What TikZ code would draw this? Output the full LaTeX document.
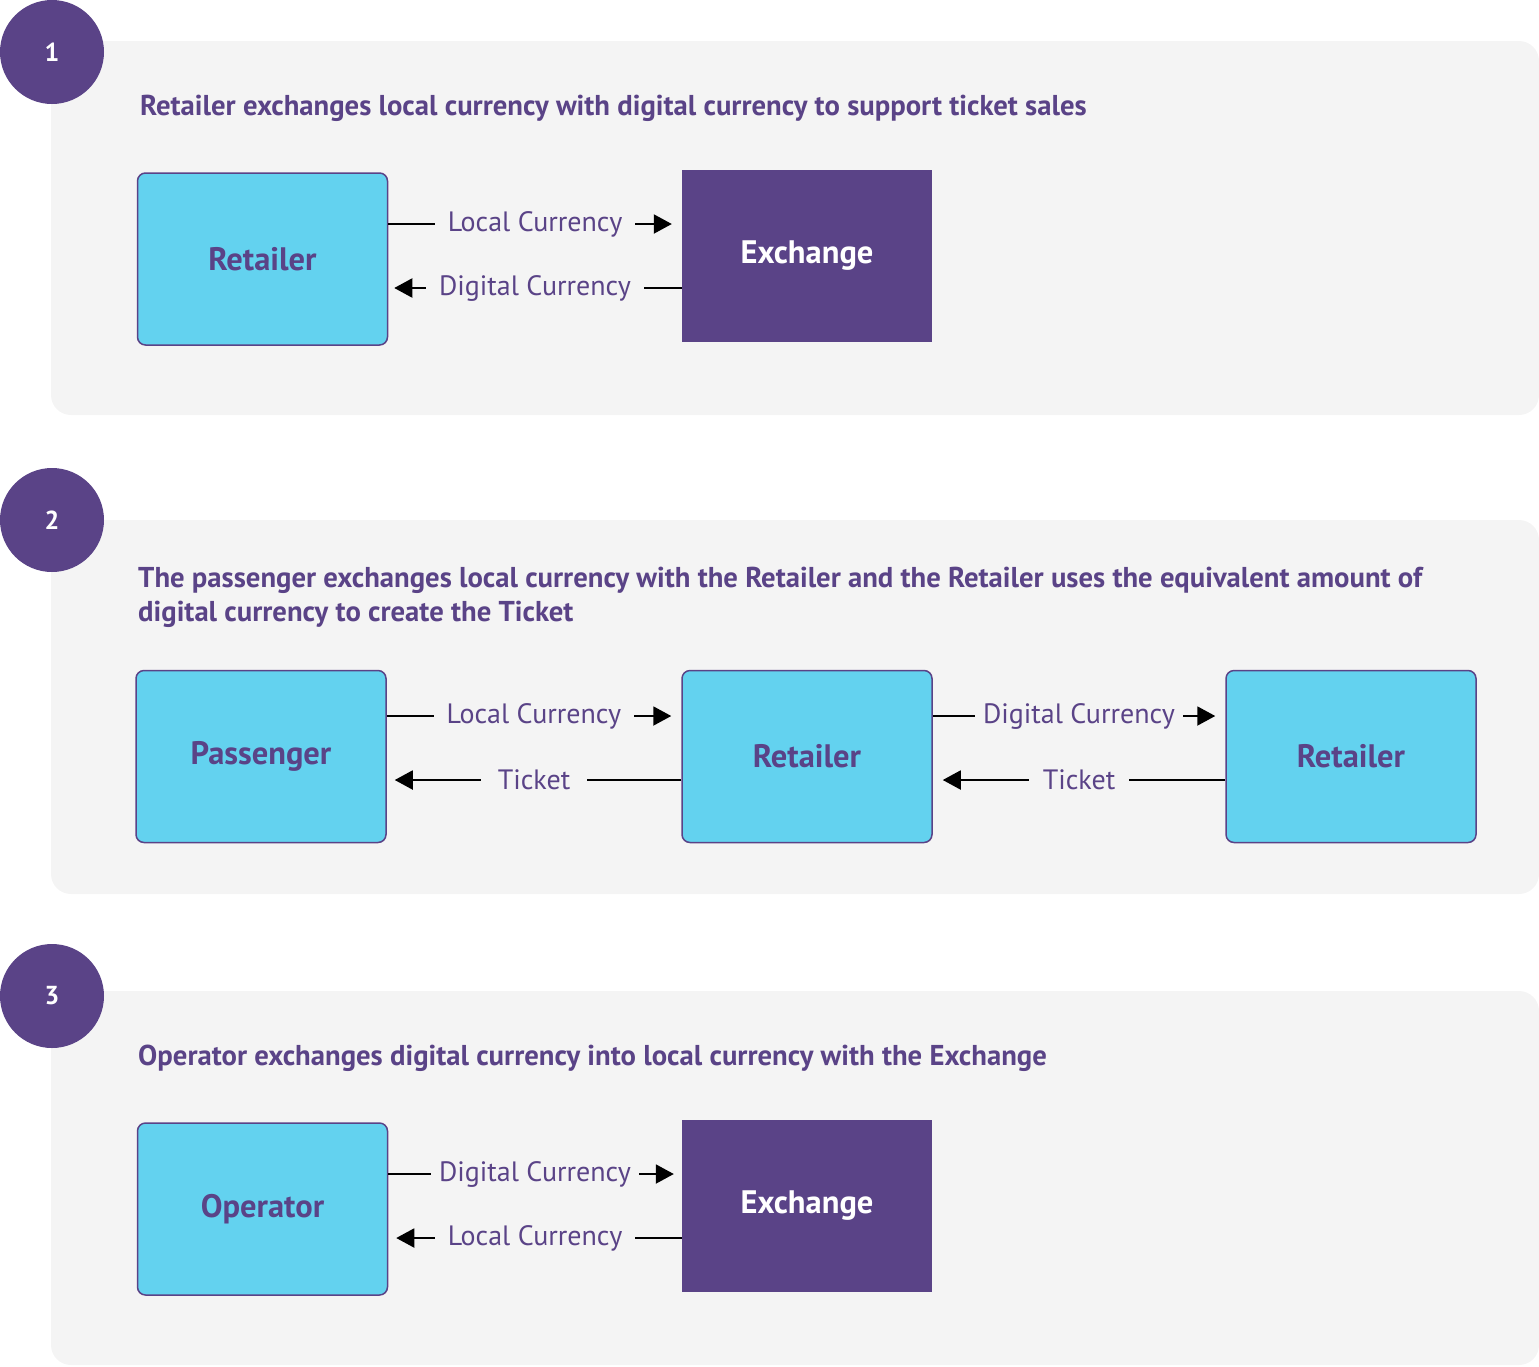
\documentclass[tikz,border=0pt]{standalone}
\usepackage{fontspec}
\setmainfont{PT Sans}
\usetikzlibrary{arrows.meta}
\definecolor{purp}{HTML}{5A4387}
\definecolor{cyanbox}{HTML}{63D2EF}
\definecolor{panel}{HTML}{F4F4F4}
\tikzset{
  x=1pt, y=-1pt,
  panelbox/.style={fill=panel, rounded corners=20pt},
  numcirc/.style={circle, fill=purp, minimum size=104pt, inner sep=0pt, text=white, font=\bfseries\fontsize{26}{30}\selectfont},
  title/.style={anchor=base west, inner sep=0pt, text=purp, font=\bfseries\fontsize{28.7}{34}\selectfont},
  actor/.style={draw=purp, line width=1.5pt, fill=cyanbox, rounded corners=8pt, minimum width=250pt, minimum height=172pt, text=purp, font=\bfseries\fontsize{32.5}{36}\selectfont},
  exch/.style={fill=purp, minimum width=250pt, minimum height=172pt, text=white, font=\bfseries\fontsize{32.5}{36}\selectfont},
  conn/.style={line width=2pt, -{Triangle[length=18pt,width=19pt]}},
  lab/.style={fill=panel, inner xsep=13pt, inner ysep=3pt, text=purp, font=\fontsize{28}{32}\selectfont},
}
\begin{document}
\begin{tikzpicture}
\useasboundingbox (0,0) rectangle (1539,1366);
% panels
\fill[panelbox] (51,41) rectangle (1539,415);
\fill[panelbox] (51,520) rectangle (1539,894);
\fill[panelbox] (51,991) rectangle (1539,1365);
% circles
\node[numcirc] (c1) at (52,52) {1};
\node[numcirc] (c2) at (52,520) {2};
\node[numcirc] (c3) at (52,996) {3};
% titles
\node[title] (t1) at (140,115) {Retailer exchanges local currency with digital currency to support ticket sales};
\node[title] (t2a) at (138,587) {The passenger exchanges local currency with the Retailer and the Retailer uses the equivalent amount of};
\node[title] (t2b) at (138,621) {digital currency to create the Ticket};
\node[title] (t3) at (138,1065) {Operator exchanges digital currency into local currency with the Exchange};
% panel 1
\node[actor] (r1) at (262.5,259) {Retailer};
\node[exch] (e1) at (807,256) {Exchange};
\coordinate (p1a) at (r1.east |- 0,224);
\coordinate (p1b) at (e1.west |- 0,288);
\draw[conn, shorten >=10pt] (p1a) -- node[lab] {Local Currency} (p1a -| e1.west);
\draw[conn, shorten >=6pt] (p1b) -- node[lab] {Digital Currency} (p1b -| r1.east);
% panel 2
\node[actor] (pa) at (261,756.5) {Passenger};
\node[actor] (r2) at (807,756.5) {Retailer};
\node[actor] (r3) at (1351,756.5) {Retailer};
\coordinate (p2a) at (pa.east |- 0,716);
\coordinate (p2b) at (r2.west |- 0,780);
\coordinate (p2c) at (r2.east |- 0,716);
\coordinate (p2d) at (r3.west |- 0,780);
\draw[conn, shorten >=10pt] (p2a) -- node[lab] {Local Currency} (p2a -| r2.west);
\draw[conn, shorten >=8pt] (p2b) -- node[lab, inner xsep=17pt] {Ticket} (p2b -| pa.east);
\draw[conn, shorten >=10pt] (p2c) -- node[lab, inner xsep=8pt] {Digital Currency} (p2c -| r3.west);
\draw[conn, shorten >=10pt] (p2d) -- node[lab, inner xsep=14pt] {Ticket} (p2d -| r2.east);
% panel 3
\node[actor] (o3) at (262.5,1209) {Operator};
\node[exch] (e3) at (807,1205.5) {Exchange};
\coordinate (p3a) at (o3.east |- 0,1174);
\coordinate (p3b) at (e3.west |- 0,1238);
\draw[conn, shorten >=8pt] (p3a) -- node[lab, inner xsep=8pt] {Digital Currency} (p3a -| e3.west);
\draw[conn, shorten >=8pt] (p3b) -- node[lab] {Local Currency} (p3b -| o3.east);
\end{tikzpicture}
\end{document}
